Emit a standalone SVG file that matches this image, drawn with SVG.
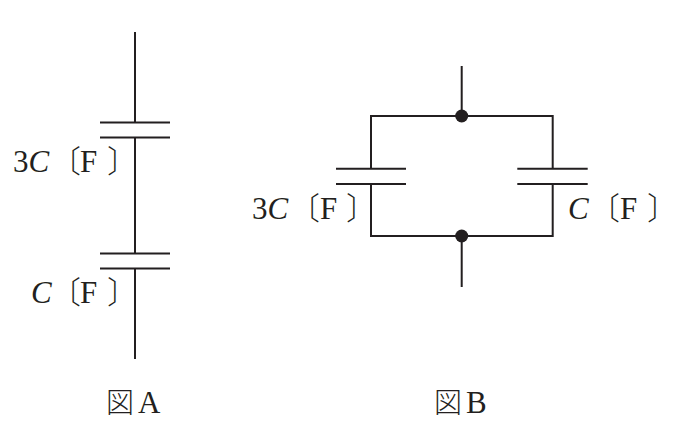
<svg xmlns="http://www.w3.org/2000/svg" width="675" height="426" viewBox="0 0 675 426">
<style>
.w{stroke:#231f20;stroke-width:2;fill:none}
.t{font-family:"Liberation Serif","Times New Roman",serif;font-size:31px;fill:#231f20}
.i{font-style:italic}
.j{font-family:"Noto Sans CJK JP",sans-serif;font-weight:300}
.h{font-feature-settings:"halt" 1}
.d{fill:#231f20}
</style>
<rect width="675" height="426" fill="#fff"/>
<g id="connectors">
<path class="w" d="M135 32V122.5M135 137.5V253.5M135 268.5V359"/>
<path class="w" d="M461.7 66V116M371 168.7V116H552.7V168.7M371 184V236H552.7V184M461.7 236V287"/>
</g>
<g id="capA1"><path class="w" d="M100 122.5H170M100 137.5H170"/></g>
<g id="capA2"><path class="w" d="M100 253.5H170M100 268.5H170"/></g>
<g id="capB1"><path class="w" d="M336 168.7H406M336 184H406"/></g>
<g id="capB2"><path class="w" d="M517.3 168.7H587.7M517.3 184H587.7"/></g>
<g id="nodeTop"><circle class="d" cx="461.7" cy="116" r="6.5"/></g>
<g id="nodeBottom"><circle class="d" cx="461.7" cy="236" r="6.5"/></g>
<g id="labels">
<text class="t" x="13" y="172">3<tspan class="i">C</tspan><tspan class="j" x="50">〔</tspan><tspan x="80">F</tspan><tspan class="j h" x="107">〕</tspan></text>
<text class="t" x="31" y="303"><tspan class="i">C</tspan><tspan class="j" x="50">〔</tspan><tspan x="80">F</tspan><tspan class="j h" x="107">〕</tspan></text>
<text class="t" x="252" y="219">3<tspan class="i">C</tspan><tspan class="j" x="289">〔</tspan><tspan x="320">F</tspan><tspan class="j h" x="346">〕</tspan></text>
<text class="t" x="568" y="219"><tspan class="i">C</tspan><tspan class="j" x="589">〔</tspan><tspan x="620">F</tspan><tspan class="j h" x="647">〕</tspan></text>
<text class="t" x="106" y="413"><tspan class="j" font-size="28">図</tspan><tspan dx="4">A</tspan></text>
<text class="t" x="434" y="413"><tspan class="j" font-size="28">図</tspan><tspan dx="4">B</tspan></text>
</g>
</svg>
